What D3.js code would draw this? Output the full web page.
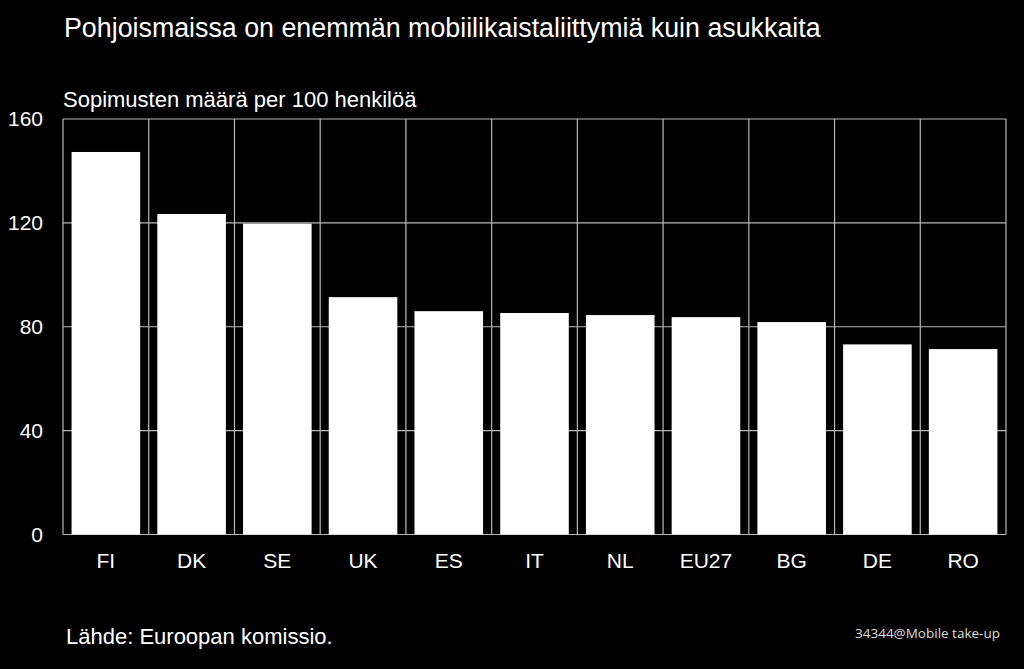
<!DOCTYPE html>
<html><head><meta charset="utf-8">
<script src="https://cdn.jsdelivr.net/npm/d3@7"></script>
<style>body{margin:0;background:#000}svg{display:block}</style>
</head><body>
<script>
const categories = ["FI","DK","SE","UK","ES","IT","NL","EU27","BG","DE","RO"];
const values = [147.3,123.4,119.7,91.4,86.0,85.3,84.5,83.7,81.8,73.2,71.4];
const yTicks = [0,40,80,120,160];
const title = "Pohjoismaissa on enemmän mobiilikaistaliittymiä kuin asukkaita";
const subtitle = "Sopimusten määrä per 100 henkilöä";
const source = "Lähde: Euroopan komissio.";
const code = "34344@Mobile take-up";

const W=1024,H=669;
const svg=d3.select("body").append("svg").attr("width",W).attr("height",H).style("background","#000");
const L=63,R=1006,T=119,B=534.5;
const x=d3.scaleBand().domain(categories).range([L,R]).paddingInner(0.2).paddingOuter(0.1);
const xg=d3.scaleBand().domain(categories).range([L,R]);
const y=d3.scaleLinear().domain([0,160]).range([B,T]);
const font="Liberation Sans, Arial, sans-serif";
const grid="#b8b8b8";

// grid
svg.append("g").selectAll("line.h").data(yTicks).join("line")
 .attr("x1",L).attr("x2",R).attr("y1",d=>y(d)).attr("y2",d=>y(d))
 .attr("stroke",grid).attr("stroke-width",1.2);
const vb=categories.map(c=>xg(c)).concat([R]);
svg.append("g").selectAll("line.v").data(vb).join("line")
 .attr("x1",d=>d).attr("x2",d=>d).attr("y1",T).attr("y2",B)
 .attr("stroke",grid).attr("stroke-width",1.2);

// bars
svg.append("g").selectAll("rect").data(values).join("rect")
 .attr("x",(d,i)=>x(categories[i])).attr("width",x.bandwidth())
 .attr("y",d=>y(d)).attr("height",d=>B-y(d)).attr("fill","#fff");

// axes
const ya=svg.append("g").attr("transform",`translate(${L},0)`)
 .call(d3.axisLeft(y).tickValues(yTicks).tickSize(0).tickPadding(20));
ya.select(".domain").remove();
ya.selectAll("text").attr("fill","#fff").attr("font-family",font).attr("font-size",21);
const xa=svg.append("g").attr("transform",`translate(0,${B})`)
 .call(d3.axisBottom(xg).tickSize(0).tickPadding(18.5));
xa.select(".domain").remove();
xa.selectAll("text").attr("fill","#fff").attr("font-family",font).attr("font-size",21);

svg.append("text").attr("x",64).attr("y",37).attr("fill","#fff").attr("font-family",font).attr("font-size",26.8).text(title);
svg.append("text").attr("x",63).attr("y",106.5).attr("fill","#fff").attr("font-family",font).attr("font-size",22).text(subtitle);
svg.append("text").attr("x",66).attr("y",644).attr("fill","#fff").attr("font-family",font).attr("font-size",22).text(source);
svg.append("text").attr("x",855).attr("y",638).attr("fill","#ddd").attr("font-family","Open Sans, sans-serif").attr("font-size",13.5).text(code);
</script>
</body></html>
